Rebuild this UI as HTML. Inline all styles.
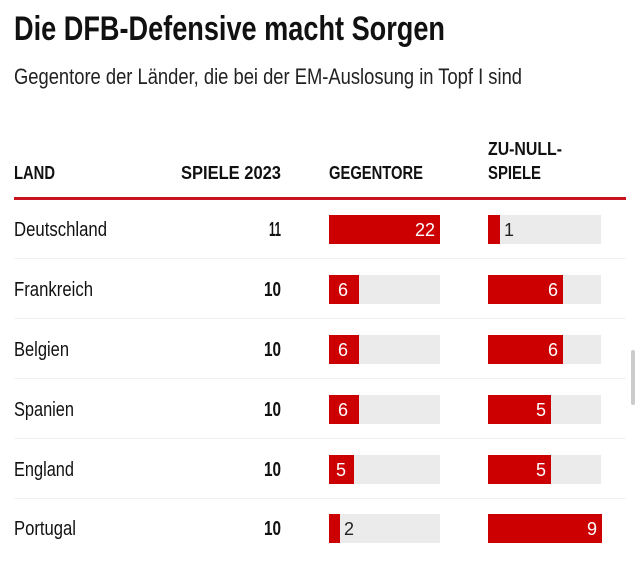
<!DOCTYPE html>
<html><head><meta charset="utf-8"><style>
html,body{margin:0;padding:0;background:#fff;}
svg{display:block;font-family:"Liberation Sans",sans-serif;}
</style></head><body>
<svg width="640" height="574" viewBox="0 0 640 574" xmlns="http://www.w3.org/2000/svg">
<text x="14" y="40" font-size="34" font-weight="bold" fill="#111" textLength="431" lengthAdjust="spacingAndGlyphs">Die DFB-Defensive macht Sorgen</text>
<text x="14" y="84" font-size="22" fill="#222" textLength="508" lengthAdjust="spacingAndGlyphs">Gegentore der Länder, die bei der EM-Auslosung in Topf I sind</text>
<g font-size="18" font-weight="bold" fill="#111">
<text x="14" y="179" textLength="41" lengthAdjust="spacingAndGlyphs">LAND</text>
<text x="181" y="179" textLength="100" lengthAdjust="spacingAndGlyphs">SPIELE 2023</text>
<text x="329" y="179" textLength="94" lengthAdjust="spacingAndGlyphs">GEGENTORE</text>
<text x="488" y="155" textLength="74" lengthAdjust="spacingAndGlyphs">ZU-NULL-</text>
<text x="488" y="179" textLength="53" lengthAdjust="spacingAndGlyphs">SPIELE</text>
</g>
<rect x="14" y="197" width="612" height="3" fill="#c8141e"/>
<g fill="#f0f0f0">
<rect x="14" y="258" width="612" height="1"/><rect x="14" y="318" width="612" height="1"/>
<rect x="14" y="378" width="612" height="1"/><rect x="14" y="438" width="612" height="1"/>
<rect x="14" y="498" width="612" height="1"/>
</g>
<rect x="631" y="350" width="4" height="55" rx="2" fill="#ccc"/>
<g font-size="20">
<g transform="translate(0,229)">
<text x="14" y="7" fill="#111" textLength="93" lengthAdjust="spacingAndGlyphs">Deutschland</text>
<text x="269" y="7" font-weight="bold" fill="#111" textLength="12" lengthAdjust="spacingAndGlyphs">11</text>
<rect x="329" y="-14" width="111" height="29" fill="#cc0000"/>
<text x="435" y="7" text-anchor="end" fill="#fff" font-size="18">22</text>
<rect x="488" y="-14" width="113" height="29" fill="#ebebeb"/><rect x="488" y="-14" width="12" height="29" fill="#cc0000"/>
<text x="504" y="7" fill="#222" font-size="18">1</text>
</g>
<g transform="translate(0,289)">
<text x="14" y="7" fill="#111" textLength="79" lengthAdjust="spacingAndGlyphs">Frankreich</text>
<text x="264" y="7" font-weight="bold" fill="#111" textLength="17" lengthAdjust="spacingAndGlyphs">10</text>
<rect x="329" y="-14" width="111" height="29" fill="#ebebeb"/><rect x="329" y="-14" width="30" height="29" fill="#cc0000"/>
<text x="338" y="7" fill="#fff" font-size="18">6</text>
<rect x="488" y="-14" width="113" height="29" fill="#ebebeb"/><rect x="488" y="-14" width="75" height="29" fill="#cc0000"/>
<text x="558" y="7" text-anchor="end" fill="#fff" font-size="18">6</text>
</g>
<g transform="translate(0,349)">
<text x="14" y="7" fill="#111" textLength="55" lengthAdjust="spacingAndGlyphs">Belgien</text>
<text x="264" y="7" font-weight="bold" fill="#111" textLength="17" lengthAdjust="spacingAndGlyphs">10</text>
<rect x="329" y="-14" width="111" height="29" fill="#ebebeb"/><rect x="329" y="-14" width="30" height="29" fill="#cc0000"/>
<text x="338" y="7" fill="#fff" font-size="18">6</text>
<rect x="488" y="-14" width="113" height="29" fill="#ebebeb"/><rect x="488" y="-14" width="75" height="29" fill="#cc0000"/>
<text x="558" y="7" text-anchor="end" fill="#fff" font-size="18">6</text>
</g>
<g transform="translate(0,409)">
<text x="14" y="7" fill="#111" textLength="60" lengthAdjust="spacingAndGlyphs">Spanien</text>
<text x="264" y="7" font-weight="bold" fill="#111" textLength="17" lengthAdjust="spacingAndGlyphs">10</text>
<rect x="329" y="-14" width="111" height="29" fill="#ebebeb"/><rect x="329" y="-14" width="30" height="29" fill="#cc0000"/>
<text x="338" y="7" fill="#fff" font-size="18">6</text>
<rect x="488" y="-14" width="113" height="29" fill="#ebebeb"/><rect x="488" y="-14" width="63" height="29" fill="#cc0000"/>
<text x="546" y="7" text-anchor="end" fill="#fff" font-size="18">5</text>
</g>
<g transform="translate(0,469)">
<text x="14" y="7" fill="#111" textLength="60" lengthAdjust="spacingAndGlyphs">England</text>
<text x="264" y="7" font-weight="bold" fill="#111" textLength="17" lengthAdjust="spacingAndGlyphs">10</text>
<rect x="329" y="-14" width="111" height="29" fill="#ebebeb"/><rect x="329" y="-14" width="25" height="29" fill="#cc0000"/>
<text x="336" y="7" fill="#fff" font-size="18">5</text>
<rect x="488" y="-14" width="113" height="29" fill="#ebebeb"/><rect x="488" y="-14" width="63" height="29" fill="#cc0000"/>
<text x="546" y="7" text-anchor="end" fill="#fff" font-size="18">5</text>
</g>
<g transform="translate(0,528)">
<text x="14" y="7" fill="#111" textLength="62" lengthAdjust="spacingAndGlyphs">Portugal</text>
<text x="264" y="7" font-weight="bold" fill="#111" textLength="17" lengthAdjust="spacingAndGlyphs">10</text>
<rect x="329" y="-14" width="111" height="29" fill="#ebebeb"/><rect x="329" y="-14" width="11" height="29" fill="#cc0000"/>
<text x="344" y="7" fill="#222" font-size="18">2</text>
<rect x="488" y="-14" width="114" height="29" fill="#cc0000"/>
<text x="597" y="7" text-anchor="end" fill="#fff" font-size="18">9</text>
</g>
</g>
</svg>
</body></html>
